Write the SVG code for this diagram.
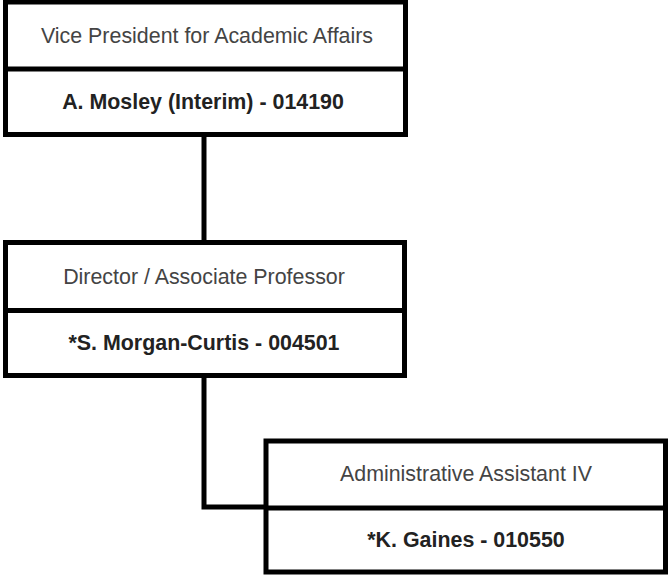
<svg xmlns="http://www.w3.org/2000/svg" width="669" height="576" viewBox="0 0 669 576">
<style>
.box{fill:#fff;stroke:#000;stroke-width:5}
.div{stroke:#000;stroke-width:5}
.title{font-family:"Liberation Sans",Arial,sans-serif;font-size:21.4px;fill:#444;text-anchor:middle}
.name{font-family:"Liberation Sans",Arial,sans-serif;font-size:21.4px;font-weight:bold;fill:#222;text-anchor:middle}
.conn{fill:none;stroke:#000;stroke-width:5}
</style>
<rect width="669" height="576" fill="#fff"/>
<g id="connectors">
<path class="conn" d="M204,134 V242"/>
<path class="conn" d="M204,375 V507 H266"/>
</g>
<g id="vpaa">
<rect class="box" x="5.5" y="2" width="400" height="132.5"/>
<line class="div" x1="5.5" y1="69" x2="405.5" y2="69"/>
<text class="title" x="207" y="43">Vice President for Academic Affairs</text>
<text class="name" x="203" y="108.5">A. Mosley (Interim) - 014190</text>
</g>
<g id="director">
<rect class="box" x="5.5" y="242.5" width="399" height="133"/>
<line class="div" x1="5.5" y1="310.5" x2="404.5" y2="310.5"/>
<text class="title" x="204" y="283.5">Director / Associate Professor</text>
<text class="name" x="204" y="350">*S. Morgan-Curtis - 004501</text>
</g>
<g id="assistant">
<rect class="box" x="266" y="441" width="399.5" height="131"/>
<line class="div" x1="266" y1="508" x2="665.5" y2="508"/>
<text class="title" x="466" y="481">Administrative Assistant IV</text>
<text class="name" x="466" y="547">*K. Gaines - 010550</text>
</g>
</svg>
